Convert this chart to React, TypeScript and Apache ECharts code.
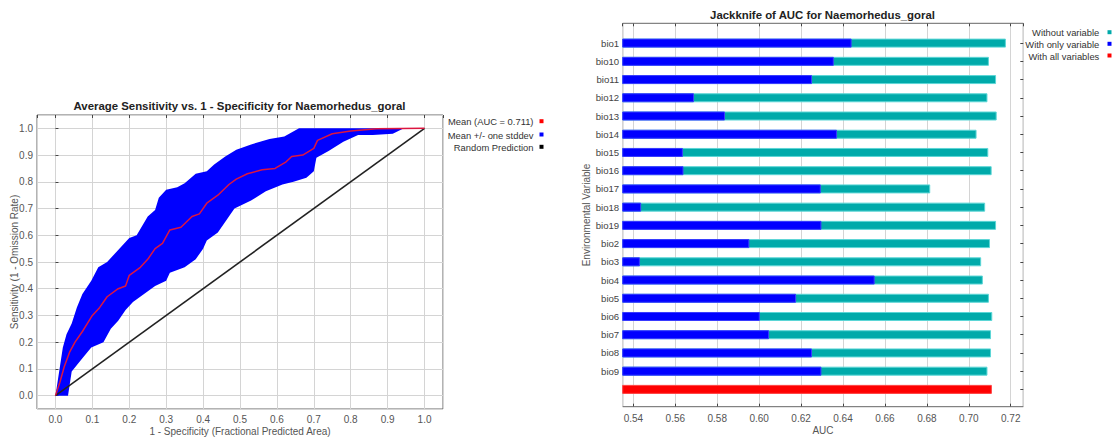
import React, { useEffect, useRef } from "react";
import * as echarts from "echarts";

// ---- ROC data (1 - specificity, sensitivity) ----
const meanCurve: [number, number][] = [
  [0, 0], [0.012, 0.05], [0.024, 0.109], [0.039, 0.165], [0.053, 0.2], [0.073, 0.24],
  [0.1, 0.3], [0.12, 0.33], [0.14, 0.37], [0.17, 0.4], [0.19, 0.41], [0.2, 0.45],
  [0.23, 0.48], [0.25, 0.51], [0.27, 0.55], [0.29, 0.57], [0.31, 0.62], [0.34, 0.63],
  [0.37, 0.67], [0.39, 0.68], [0.41, 0.72], [0.44, 0.75], [0.47, 0.79], [0.49, 0.81],
  [0.52, 0.83], [0.56, 0.845], [0.595, 0.85], [0.625, 0.875], [0.64, 0.895], [0.67, 0.9],
  [0.7, 0.925], [0.71, 0.955], [0.75, 0.98], [0.8, 0.99], [0.87, 0.999], [1, 1],
];

const upperBand: [number, number][] = [
  [0, 0], [0.02, 0.18], [0.03, 0.23], [0.044, 0.27], [0.058, 0.33], [0.073, 0.38],
  [0.097, 0.43], [0.116, 0.48], [0.14, 0.5], [0.16, 0.53], [0.18, 0.56], [0.2, 0.59],
  [0.22, 0.6], [0.25, 0.67], [0.27, 0.695], [0.28, 0.74], [0.3, 0.77], [0.33, 0.78],
  [0.35, 0.795], [0.38, 0.83], [0.41, 0.84], [0.43, 0.865], [0.46, 0.895], [0.49, 0.92],
  [0.53, 0.94], [0.58, 0.96], [0.62, 0.97], [0.66, 1.0], [1, 1],
];

const lowerBand: [number, number][] = [
  [0, 0], [0.034, 0], [0.044, 0.09], [0.073, 0.14], [0.097, 0.18], [0.13, 0.2],
  [0.15, 0.25], [0.17, 0.28], [0.19, 0.32], [0.21, 0.35], [0.24, 0.38], [0.27, 0.41],
  [0.3, 0.43], [0.31, 0.46], [0.35, 0.48], [0.38, 0.51], [0.4, 0.55], [0.41, 0.58],
  [0.44, 0.61], [0.47, 0.67], [0.485, 0.7], [0.53, 0.73], [0.57, 0.765], [0.615, 0.79],
  [0.645, 0.8], [0.68, 0.815], [0.7, 0.84], [0.707, 0.89], [0.74, 0.915], [0.78, 0.95],
  [0.82, 0.975], [0.86, 0.975], [0.914, 0.98], [0.944, 1.0], [1, 1],
];

const randomLine: [number, number][] = [[0, 0], [1, 1]];

// ---- Jackknife data ----
const variables = [
  "bio1", "bio10", "bio11", "bio12", "bio13", "bio14", "bio15", "bio16", "bio17", "bio18",
  "bio19", "bio2", "bio3", "bio4", "bio5", "bio6", "bio7", "bio8", "bio9", "",
];
const withoutVariable = [
  0.7177, 0.7096, 0.713, 0.7089, 0.7133, 0.7037, 0.7093, 0.7109, 0.6816, 0.7078,
  0.713, 0.7101, 0.7059, 0.7067, 0.7096, 0.7112, 0.7106, 0.7106, 0.7089, null,
];
const withOnlyVariable = [
  0.6441, 0.6356, 0.6252, 0.5689, 0.5837, 0.6371, 0.5636, 0.5639, 0.6294, 0.5437,
  0.6297, 0.5953, 0.5431, 0.6551, 0.6176, 0.6003, 0.6047, 0.6252, 0.6297, null,
];
const withAllVariables = [
  null, null, null, null, null, null, null, null, null, null,
  null, null, null, null, null, null, null, null, null, 0.711,
];

const FONT = "'Liberation Sans', Arial, sans-serif";
const AUC_MIN = 0.5349;
const AUC_MAX = 0.726;

export default function App() {
  const ref = useRef<HTMLDivElement>(null);

  useEffect(() => {
    if (!ref.current) return;
    const chart = echarts.init(ref.current, undefined, { renderer: "svg" });
    const labelStyle = { color: "#555", fontSize: 10, fontFamily: FONT };
    const nameStyle = { color: "#555", fontSize: 10, fontFamily: FONT, lineHeight: 10 };
    const gridLine = { show: true, lineStyle: { color: "#d4d4d4", width: 1 } };
    const innerTick = { show: true, inside: true, length: 3, lineStyle: { color: "#444" } };

    const legendItem = (x: number, y: number, mx: number, text: string, color: string) => [
      {
        type: "text",
        x,
        y,
        style: {
          text,
          fill: "#333",
          font: `9.4px ${FONT}`,
          textAlign: "right",
          align: "right",
          textVerticalAlign: "middle",
          verticalAlign: "middle",
        },
      },
      { type: "rect", shape: { x: mx, y: y - 2.5, width: 4, height: 4 }, style: { fill: color } },
    ];

    chart.setOption({
      animation: false,
      textStyle: { fontFamily: FONT },
      title: [
        {
          text: "Average Sensitivity vs. 1 - Specificity for Naemorhedus_goral",
          left: 239.5,
          top: 100.5,
          padding: 0,
          textAlign: "center",
          textStyle: { fontSize: 11.4, fontWeight: "bold", color: "#222", fontFamily: FONT },
        },
        {
          text: "Jackknife of AUC for Naemorhedus_goral",
          left: 822.5,
          top: 9.5,
          padding: 0,
          textAlign: "center",
          textStyle: { fontSize: 11.4, fontWeight: "bold", color: "#222", fontFamily: FONT },
        },
      ],
      grid: [
        { left: 37, right: 671, top: 115, bottom: 28, show: true, borderColor: "#666", borderWidth: 1, containLabel: false, outerBoundsMode: "none" },
        { left: 622.7, right: 90.7, top: 23.3, bottom: 30.3, show: true, borderColor: "#666", borderWidth: 1, containLabel: false, outerBoundsMode: "none" },
        { left: 622.7, right: 90.7, top: 34, bottom: 38.5, containLabel: false, outerBoundsMode: "none" },
      ],
      xAxis: [
        {
          gridIndex: 0, type: "value", min: -0.05, max: 1.05, splitNumber: 11,
          axisLine: { show: false }, axisTick: { show: false },
          axisLabel: { ...labelStyle, margin: 5, showMinLabel: false, showMaxLabel: false, formatter: (v: number) => v.toFixed(1) },
          splitLine: gridLine,
          name: "1 - Specificity (Fractional Predicted Area)", nameLocation: "middle", nameGap: 17, nameMoveOverlap: false, nameTextStyle: nameStyle,
        },
        {
          gridIndex: 1, type: "value", min: AUC_MIN, max: AUC_MAX, splitNumber: 10,
          axisLine: { show: false },
          axisTick: innerTick,
          axisLabel: { ...labelStyle, margin: 7, showMinLabel: false, showMaxLabel: false, formatter: (v: number) => v.toFixed(2) },
          splitLine: gridLine,
          name: "AUC", nameLocation: "middle", nameGap: 19, nameMoveOverlap: false, nameTextStyle: nameStyle,
        },
        {
          gridIndex: 2, type: "value", min: AUC_MIN, max: AUC_MAX, show: false,
        },
        {
          gridIndex: 1, type: "value", position: "top", min: AUC_MIN, max: AUC_MAX, splitNumber: 10,
          axisLine: { show: false }, axisTick: innerTick,
          axisLabel: { show: false }, splitLine: { show: false },
        },
        {
          gridIndex: 0, type: "value", position: "top", min: -0.05, max: 1.05, splitNumber: 11,
          axisLine: { show: false }, axisTick: innerTick,
          axisLabel: { show: false }, splitLine: { show: false },
        },
      ],
      yAxis: [
        {
          gridIndex: 0, type: "value", min: -0.05, max: 1.05, splitNumber: 11,
          axisLine: { show: false },
          axisTick: innerTick,
          axisLabel: { ...labelStyle, margin: 4, showMinLabel: false, showMaxLabel: false, formatter: (v: number) => v.toFixed(1) },
          splitLine: gridLine,
          name: "Sensitivity (1 - Omission Rate)", nameLocation: "middle", nameGap: 18, nameMoveOverlap: false, nameTextStyle: nameStyle,
        },
        {
          gridIndex: 1, type: "value", min: 0, max: 1,
          axisLine: { show: false }, axisTick: { show: false }, axisLabel: { show: false }, splitLine: { show: false },
          name: "Environmental Variable", nameLocation: "middle", nameGap: 31, nameMoveOverlap: false, nameTextStyle: nameStyle,
        },
        {
          gridIndex: 2, type: "category", data: variables, inverse: true,
          axisLine: { show: false }, axisTick: { show: false },
          axisLabel: { ...labelStyle, fontSize: 9.6, color: "#444", margin: 3.5 },
        },
        {
          gridIndex: 2, type: "category", data: variables, inverse: true, position: "right",
          axisLine: { show: false },
          axisTick: { ...innerTick, alignWithLabel: true },
          axisLabel: { show: false },
        },
      ],
      series: [
        {
          type: "line", xAxisIndex: 0, yAxisIndex: 0, data: randomLine,
          showSymbol: false, lineStyle: { color: "#222", width: 1.6 },
        },
        {
          type: "custom", xAxisIndex: 0, yAxisIndex: 0, data: [[0, 0]],
          renderItem: (_params: any, api: any) => {
            const pts = upperBand.map((p) => api.coord(p)).concat(
              lowerBand.slice().reverse().map((p) => api.coord(p))
            );
            return { type: "polygon", shape: { points: pts }, style: { fill: "#0000ff" } };
          },
        },
        {
          type: "line", xAxisIndex: 0, yAxisIndex: 0, data: meanCurve,
          showSymbol: false, lineStyle: { color: "#dc1640", width: 1.5 },
        },
        {
          type: "bar", xAxisIndex: 2, yAxisIndex: 2, data: withoutVariable, barWidth: 9, barGap: "-100%",
          itemStyle: { color: "#00aaaa", borderColor: "#5cd6d6", borderWidth: 1 },
        },
        {
          type: "bar", xAxisIndex: 2, yAxisIndex: 2, data: withOnlyVariable, barWidth: 9, barGap: "-100%",
          itemStyle: { color: "#0000ff", borderColor: "#3a3aff", borderWidth: 1 },
        },
        {
          type: "bar", xAxisIndex: 2, yAxisIndex: 2, data: withAllVariables, barWidth: 9, barGap: "-100%",
          itemStyle: { color: "#ff0000", borderColor: "#ff4040", borderWidth: 1 },
        },
      ],
      graphic: [
        ...legendItem(533.5, 121.7, 539.5, "Mean (AUC = 0.711)", "#ff0000"),
        ...legendItem(533.5, 135, 539.5, "Mean +/- one stddev", "#0000ff"),
        ...legendItem(533.5, 147.3, 539.5, "Random Prediction", "#000000"),
        ...legendItem(1099.3, 32.7, 1107.5, "Without variable", "#00aaaa"),
        ...legendItem(1099.3, 44.3, 1107.5, "With only variable", "#0000ff"),
        ...legendItem(1099.3, 56, 1107.5, "With all variables", "#ff0000"),
      ],
    });
    return () => chart.dispose();
  }, []);

  return (
    <div
      ref={ref}
      style={{ position: "fixed", left: 0, top: 0, width: 1114, height: 437, background: "#fff" }}
    />
  );
}
